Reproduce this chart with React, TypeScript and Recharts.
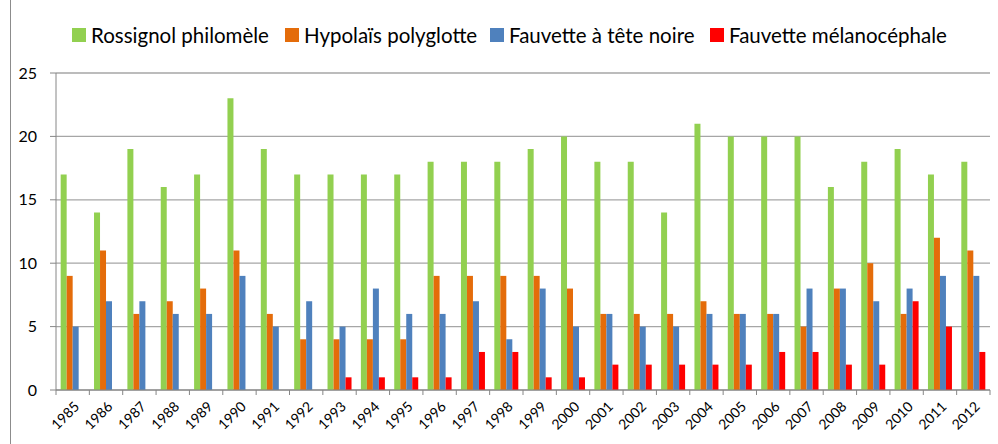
import React from 'react';
import { BarChart, Bar, XAxis, YAxis, CartesianGrid } from 'recharts';

const years = ['1985','1986','1987','1988','1989','1990','1991','1992','1993','1994','1995','1996','1997','1998','1999','2000','2001','2002','2003','2004','2005','2006','2007','2008','2009','2010','2011','2012'];
const rossignol = [17,14,19,16,17,23,19,17,17,17,17,18,18,18,19,20,18,18,14,21,20,20,20,16,18,19,17,18];
const hypolais = [9,11,6,7,8,11,6,4,4,4,4,9,9,9,9,8,6,6,6,7,6,6,5,8,10,6,12,11];
const fauvetteTN = [5,7,7,6,6,9,5,7,5,8,6,6,7,4,8,5,6,5,5,6,6,6,8,8,7,8,9,9];
const fauvetteMel = [0,0,0,0,0,0,0,0,1,1,1,1,3,3,1,1,2,2,2,2,2,3,3,2,2,7,5,3];
const yTicks = [0,5,10,15,20,25];

const seriesNames = ['Rossignol philomèle','Hypolaïs polyglotte','Fauvette à tête noire','Fauvette mélanocéphale'];
const colors = ['#92D050','#E46C0A','#4F81BD','#FF0000'];
const legendX = [72, 285, 490, 710];

const data = years.map((y, i) => ({
  year: y,
  s0: rossignol[i],
  s1: hypolais[i],
  s2: fauvetteTN[i],
  s3: fauvetteMel[i],
}));

const W = 998;
const H = 444;
const margin = { top: 73, right: 8, left: 0, bottom: 0 };
const xAxisHeight = 54;
const yAxisWidth = 56;
const band = (W - margin.left - margin.right - yAxisWidth) / years.length;
const FONT = 'Lato, "Open Sans", sans-serif';

const XTick = (props: any) => {
  const { x, payload, index } = props;
  const ay = H - margin.bottom - xAxisHeight;
  const tx = x + 5;
  const ty = ay + 15;
  return (
    <g>
      {index === 0 && (
        <line x1={x - band / 2} y1={ay} x2={x - band / 2} y2={ay + 5} stroke="#868686" strokeWidth={1} />
      )}
      <line x1={x + band / 2} y1={ay} x2={x + band / 2} y2={ay + 5} stroke="#868686" strokeWidth={1} />
      <text
        x={tx}
        y={ty}
        transform={`rotate(-45, ${tx}, ${ty})`}
        textAnchor="end"
        dominantBaseline="middle"
        fontSize={14}
        fontFamily={FONT}
        fill="#000"
      >
        {payload.value}
      </text>
    </g>
  );
};

const Legend = () => (
  <div style={{ position: 'absolute', left: 0, top: 23, width: W, height: 26, fontFamily: FONT, fontSize: 20.5, color: '#000', whiteSpace: 'nowrap' }}>
    {seriesNames.map((n, i) => (
      <div key={n} style={{ position: 'absolute', left: legendX[i], top: 0, display: 'flex', alignItems: 'center' }}>
        <span style={{ display: 'inline-block', width: 14, height: 14, background: colors[i], marginRight: 5 }} />
        <span>{n}</span>
      </div>
    ))}
  </div>
);

export default function App() {
  return (
    <div style={{ position: 'absolute', left: 0, top: 0, width: W, height: H, background: '#fff' }}>
      <div style={{ position: 'absolute', left: 10, top: 0, width: 1, height: H, background: '#8c8c8c' }} />
      <Legend />
      <BarChart width={W} height={H} data={data} margin={margin} barCategoryGap="14%" barGap={0}>
        <CartesianGrid vertical={false} stroke="#A6A6A6" strokeWidth={1.3} />
        <XAxis
          dataKey="year"
          interval={0}
          tickLine={false}
          axisLine={{ stroke: '#868686' }}
          tick={<XTick />}
          height={xAxisHeight}
        />
        <YAxis
          domain={[0, 25]}
          ticks={yTicks}
          width={yAxisWidth}
          axisLine={{ stroke: '#868686' }}
          tickLine={{ stroke: '#868686' }}
          tickSize={6}
          tickMargin={13}
          tick={{ fontSize: 16, fontFamily: FONT, fill: '#000' }}
        />
        <Bar dataKey="s0" fill={colors[0]} isAnimationActive={false} />
        <Bar dataKey="s1" fill={colors[1]} isAnimationActive={false} />
        <Bar dataKey="s2" fill={colors[2]} isAnimationActive={false} />
        <Bar dataKey="s3" fill={colors[3]} isAnimationActive={false} />
      </BarChart>
    </div>
  );
}
